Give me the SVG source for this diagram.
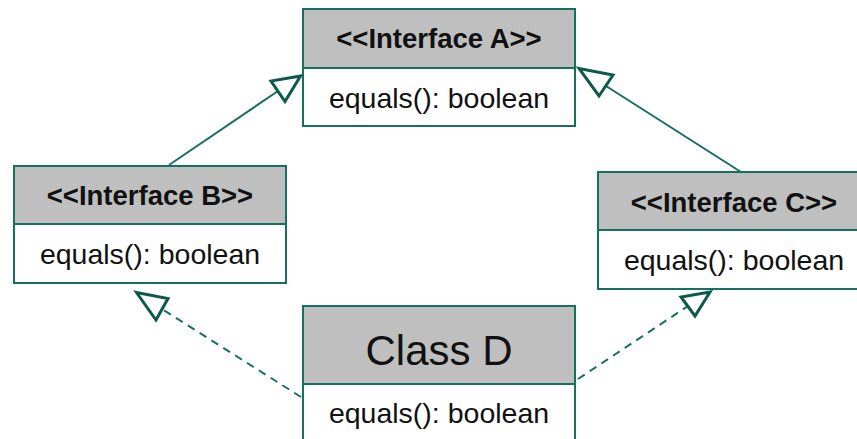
<svg xmlns="http://www.w3.org/2000/svg" width="857" height="439" viewBox="0 0 857 439">
  <style>
    .hdr { fill: #bfbfbf; stroke: #15705f; stroke-width: 2; }
    .body { fill: #ffffff; stroke: #15705f; stroke-width: 2; }
    .title { font-family: "Liberation Sans", Arial, sans-serif; font-weight: bold; font-size: 27.5px; fill: #111111; text-anchor: middle; }
    .big { font-family: "Liberation Sans", Arial, sans-serif; font-size: 42px; fill: #111111; text-anchor: middle; }
    .op { font-family: "Liberation Sans", Arial, sans-serif; font-size: 28.5px; fill: #111111; text-anchor: middle; }
    .solid { stroke: #15705f; stroke-width: 2; fill: none; }
    .dash { stroke: #15705f; stroke-width: 2; fill: none; stroke-dasharray: 8 6; }
    .head { fill: #ffffff; stroke: #0d5a4c; stroke-width: 3; stroke-linejoin: miter; }
  </style>

  <!-- connectors -->
  <g id="connectors">
    <!-- B generalizes A -->
    <line class="solid" x1="169" y1="165" x2="278" y2="91"/>
    <polygon class="head" points="300.5,76 271,81 285,101.5"/>
    <!-- C generalizes A -->
    <line class="solid" x1="741" y1="172" x2="606" y2="86"/>
    <polygon class="head" points="579,68.5 613,75 599,96"/>
    <!-- D realizes B -->
    <line class="dash" x1="301" y1="397" x2="162" y2="309"/>
    <polygon class="head" points="136.5,292.5 168,298.5 156,320"/>
    <!-- D realizes C -->
    <line class="dash" x1="578" y1="379" x2="688" y2="306"/>
    <polygon class="head" points="710,292 681,297 695,316"/>
  </g>

  <g id="interfaceA">
    <rect class="hdr" x="303" y="9" width="272" height="59"/>
    <rect class="body" x="303" y="68" width="272" height="58"/>
    <text class="title" x="439" y="48">&lt;&lt;Interface A&gt;&gt;</text>
    <text class="op" x="439" y="108">equals(): boolean</text>
  </g>

  <g id="interfaceB">
    <rect class="hdr" x="14" y="166" width="272" height="58"/>
    <rect class="body" x="14" y="224" width="272" height="59"/>
    <text class="title" x="150" y="205">&lt;&lt;Interface B&gt;&gt;</text>
    <text class="op" x="150" y="264">equals(): boolean</text>
  </g>

  <g id="interfaceC">
    <rect class="hdr" x="598" y="172" width="272" height="58"/>
    <rect class="body" x="598" y="230" width="272" height="59"/>
    <text class="title" x="734" y="212">&lt;&lt;Interface C&gt;&gt;</text>
    <text class="op" x="734" y="270">equals(): boolean</text>
  </g>

  <g id="classD">
    <rect class="hdr" x="303" y="306" width="272" height="78"/>
    <rect class="body" x="303" y="384" width="272" height="70"/>
    <text class="big" x="439" y="365">Class D</text>
    <text class="op" x="439" y="423">equals(): boolean</text>
  </g>
</svg>
